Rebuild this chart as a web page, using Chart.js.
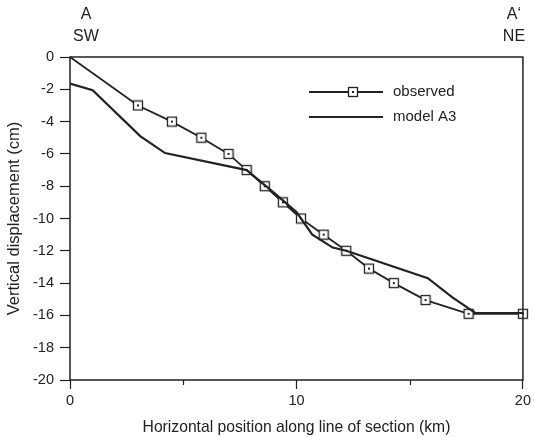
<!DOCTYPE html>
<html>
<head>
<meta charset="utf-8">
<script src="https://cdn.jsdelivr.net/npm/chart.js@4"></script>
<style>
html,body{margin:0;padding:0;background:#fff;}
#wrap{width:534px;height:437px;}
</style>
</head>
<body>
<div id="wrap"><canvas id="c" width="534" height="437"></canvas></div>
<script>
// ---- data ----
const observedX = [0, 3.0, 4.5, 5.8, 7.0, 7.8, 8.6, 9.4, 10.2, 11.2, 12.2, 13.2, 14.3, 15.7, 17.6, 20.0];
const observedY = [0, -3.0, -4.0, -5.0, -6.0, -7.0, -8.0, -9.0, -10.0, -11.0, -12.0, -13.1, -14.0, -15.05, -15.9, -15.9];
const modelX = [0, 1.0, 3.1, 4.2, 7.8, 9.0, 10.0, 10.7, 11.6, 12.2, 15.8, 16.9, 17.9, 20.0];
const modelY = [-1.65, -2.05, -4.9, -5.95, -7.0, -8.4, -9.6, -11.0, -11.8, -12.0, -13.7, -14.9, -15.85, -15.85];
const xTickLabels = [0, 10, 20];
const minorXTicks = [5, 15];
const seriesNames = ['observed', 'model A3'];
const endLabelsLeft = ['A', 'SW'];
const endLabelsRight = ['A\u2018', 'NE'];

const FONT = '"Liberation Sans", Arial, Helvetica, sans-serif';
const INK = '#222';

// marker: open square with center dot
function makeMarker() {
  const cv = document.createElement('canvas');
  cv.width = 12; cv.height = 12;
  const g = cv.getContext('2d');
  g.fillStyle = '#fff';
  g.fillRect(1, 1, 10, 10);
  g.strokeStyle = INK;
  g.lineWidth = 1.3;
  g.strokeRect(1.5, 1.5, 9, 9);
  g.fillStyle = INK;
  g.fillRect(5, 5, 2, 2);
  return cv;
}
const marker = makeMarker();

const toXY = (xs, ys) => xs.map((x, i) => ({x: x, y: ys[i]}));

const decorPlugin = {
  id: 'decor',
  afterDraw(chart) {
    const ctx = chart.ctx;
    const a = chart.chartArea;
    const xs = chart.scales.x;
    ctx.save();
    // frame
    ctx.strokeStyle = INK;
    ctx.lineWidth = 1.5;
    ctx.strokeRect(a.left, a.top, a.right - a.left, a.bottom - a.top);
    // minor ticks
    ctx.lineWidth = 1.2;
    minorXTicks.forEach(v => {
      const px = Math.round(xs.getPixelForValue(v)) + 0.5;
      ctx.beginPath();
      ctx.moveTo(px, a.bottom);
      ctx.lineTo(px, a.bottom + 5);
      ctx.stroke();
    });
    // end labels
    ctx.fillStyle = INK;
    ctx.font = '16px ' + FONT;
    ctx.textAlign = 'center';
    ctx.textBaseline = 'middle';
    const lx = xs.getPixelForValue(0) + 16;
    const rx = xs.getPixelForValue(20) - 9;
    ctx.fillText(endLabelsLeft[0], lx, 15);
    ctx.fillText(endLabelsLeft[1], lx, 37);
    ctx.fillText(endLabelsRight[0], rx, 15);
    ctx.fillText(endLabelsRight[1], rx, 37);
    // legend
    ctx.font = '15px ' + FONT;
    ctx.textAlign = 'left';
    ctx.lineWidth = 1.8;
    ctx.beginPath();
    ctx.moveTo(309, 92); ctx.lineTo(383, 92);
    ctx.stroke();
    ctx.drawImage(marker, 353 - 6, 92 - 6);
    ctx.fillText(seriesNames[0], 393, 92);
    ctx.lineWidth = 2;
    ctx.beginPath();
    ctx.moveTo(309, 117); ctx.lineTo(383, 117);
    ctx.stroke();
    ctx.fillText(seriesNames[1], 393, 117);
    ctx.restore();
  }
};

new Chart(document.getElementById('c'), {
  type: 'line',
  data: {
    datasets: [
      {
        label: seriesNames[1],
        data: toXY(modelX, modelY),
        borderColor: INK,
        borderWidth: 2.2,
        pointRadius: 0,
        tension: 0,
        fill: false
      },
      {
        label: seriesNames[0],
        data: toXY(observedX, observedY),
        borderColor: INK,
        borderWidth: 1.8,
        pointStyle: marker,
        pointRadius: c => c.dataIndex === 0 ? 0 : 5,
        tension: 0,
        fill: false,
        clip: 6
      }
    ]
  },
  options: {
    responsive: false,
    animation: false,
    devicePixelRatio: 1,
    layout: {padding: {top: 57, right: 10, left: 0, bottom: 0}},
    plugins: {legend: {display: false}, tooltip: {enabled: false}},
    scales: {
      x: {
        type: 'linear',
        min: 0, max: 20,
        afterFit: s => { s.height = 57; },
        afterBuildTicks: s => { s.ticks = xTickLabels.map(v => ({value: v})); },
        ticks: {
          font: {family: FONT, size: 14.5},
          color: INK,
          padding: 3,
          maxRotation: 0,
          autoSkip: false
        },
        grid: {drawOnChartArea: false, drawTicks: true, tickLength: 9, tickColor: INK, tickWidth: 1.2},
        border: {display: false},
        title: {
          display: true,
          text: 'Horizontal position along line of section (km)',
          font: {family: FONT, size: 15.7},
          color: INK,
          padding: {top: 0, bottom: 0}
        }
      },
      y: {
        min: -20, max: 0,
        afterFit: s => { s.width = 70; },
        ticks: {
          stepSize: 2,
          font: {family: FONT, size: 14.5},
          color: INK,
          padding: 6
        },
        grid: {drawOnChartArea: false, drawTicks: true, tickLength: 10, tickColor: INK, tickWidth: 1.2},
        border: {display: false},
        title: {
          display: true,
          text: 'Vertical displacement (cm)',
          font: {family: FONT, size: 16.5},
          color: INK,
          padding: {top: 5, bottom: 0}
        }
      }
    }
  },
  plugins: [decorPlugin]
});
</script>
</body>
</html>
